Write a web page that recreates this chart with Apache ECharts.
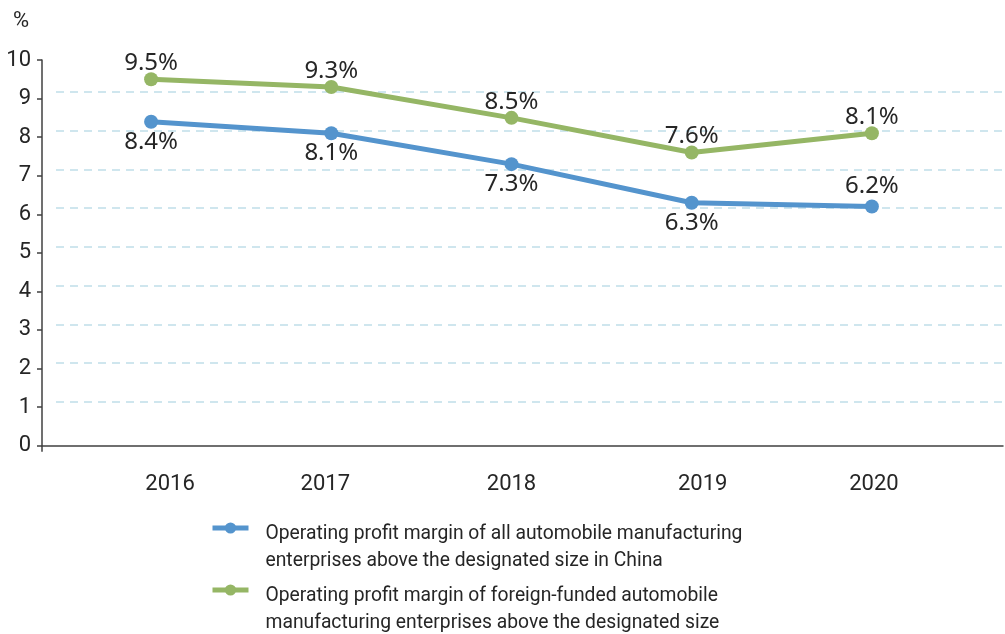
<!DOCTYPE html>
<html>
<head>
<meta charset="utf-8">
<script src="https://cdn.jsdelivr.net/npm/echarts@6/dist/echarts.min.js"></script>
<style>
html,body{margin:0;padding:0;background:#fff;}
#chart{width:1005px;height:634px;}
</style>
</head>
<body>
<div id="chart"></div>
<script>
// ---- data ----
const years = ['2016', '2017', '2018', '2019', '2020'];
const allEnterprises = [8.4, 8.1, 7.3, 6.3, 6.2];
const foreignFunded = [9.5, 9.3, 8.5, 7.6, 8.1];
const yTicks = [0, 1, 2, 3, 4, 5, 6, 7, 8, 9, 10];
const seriesNames = [
  'Operating profit margin of all automobile manufacturing\nenterprises above the designated size in China',
  'Operating profit margin of foreign-funded automobile\nmanufacturing enterprises above the designated size'
];

// ---- layout / style ----
const BLUE = '#5494CD';
const GREEN = '#95B665';
const TEXT = '#262626';
const NARROW = "Roboto, 'Liberation Sans', sans-serif";
const LABELFONT = "'Noto Sans', 'Open Sans', sans-serif";
const xLabelNudge = [19, -6, 0, 11, 2]; // horizontal nudges of the year labels (px)

const chart = echarts.init(document.getElementById('chart'), null, {renderer: 'canvas'});

function legendFormatter(name) {
  const parts = name.split('\n');
  return '{s| }\n{t|' + parts[0] + '}\n{t|' + parts[1] + '}';
}
const legendRich = {
  s: {lineHeight: 40, fontSize: 4},
  t: {lineHeight: 27, fontSize: 19.3, fontFamily: NARROW, color: TEXT, padding: [0, 0, 0, 12]}
};
function legendBlock(name, top) {
  return {
    orient: 'vertical', left: 205, top: top,
    data: [name],
    itemWidth: 36, itemHeight: 14,
    lineStyle: {width: 5},
    formatter: legendFormatter,
    textStyle: {rich: legendRich}
  };
}

const option = {
  backgroundColor: '#ffffff',
  animation: false,
  grid: [
    {left: 61, right: 43, top: 60, bottom: 188.3},   // series
    {left: 42, right: 2, top: 60, bottom: 188.3},    // axes
    {left: 56, right: 2, top: 92, bottom: 232.3}     // dashed guide lines
  ],
  xAxis: [
    {
      gridIndex: 0, type: 'category', boundaryGap: true,
      data: years.map((y, i) => ({
        value: y,
        textStyle: {padding: xLabelNudge[i] >= 0 ? [0, 0, 0, 2 * xLabelNudge[i]] : [0, -2 * xLabelNudge[i], 0, 0]}
      })),
      axisLine: {show: false}, axisTick: {show: false}, splitLine: {show: false},
      axisLabel: {margin: 28, fontSize: 22, fontFamily: NARROW, color: TEXT}
    },
    {
      gridIndex: 1, type: 'value', min: 0, max: 1,
      axisLine: {show: true, lineStyle: {color: '#404040', width: 1.5}},
      axisTick: {show: true, customValues: [0], length: 6, lineStyle: {color: '#404040', width: 1.5}},
      axisLabel: {show: false}, splitLine: {show: false}
    },
    {
      gridIndex: 2, type: 'value', min: 0, max: 1, show: false
    }
  ],
  yAxis: [
    {
      gridIndex: 0, type: 'value', min: 0, max: 10, interval: 1, show: false
    },
    {
      gridIndex: 1, type: 'value', min: yTicks[0], max: yTicks[yTicks.length - 1], interval: 1,
      name: '%', nameLocation: 'end', nameGap: 28,
      nameTextStyle: {fontSize: 22, fontFamily: NARROW, color: TEXT, padding: [0, 42, 0, 0]},
      axisLine: {show: true, lineStyle: {color: '#404040', width: 1.5}},
      axisTick: {show: true, length: 5, inside: false, lineStyle: {color: '#404040', width: 1.5}},
      axisLabel: {margin: 11, fontSize: 22, fontFamily: NARROW, color: TEXT},
      splitLine: {show: false}
    },
    {
      gridIndex: 2, type: 'value', min: 1, max: 9, interval: 1,
      axisLine: {show: false}, axisTick: {show: false}, axisLabel: {show: false},
      splitLine: {show: true, lineStyle: {color: '#CFE6EE', width: 2, type: [8, 6]}}
    }
  ],
  legend: [
    legendBlock(seriesNames[0], 494),
    legendBlock(seriesNames[1], 556)
  ],
  series: [
    {
      name: seriesNames[0], type: 'line', xAxisIndex: 0, yAxisIndex: 0,
      data: allEnterprises.map((v, i) => ({
        value: v,
        label: {position: i === allEnterprises.length - 1 ? 'top' : 'bottom'}
      })),
      symbol: 'circle', symbolSize: 14,
      lineStyle: {color: BLUE, width: 5},
      itemStyle: {color: BLUE},
      label: {show: true, distance: 1, formatter: p => p.value.toFixed(1) + '%',
        fontSize: 24, fontFamily: LABELFONT, color: TEXT},
      z: 3
    },
    {
      name: seriesNames[1], type: 'line', xAxisIndex: 0, yAxisIndex: 0,
      data: foreignFunded,
      symbol: 'circle', symbolSize: 14,
      lineStyle: {color: GREEN, width: 5},
      itemStyle: {color: GREEN},
      label: {show: true, position: 'top', distance: -3, formatter: p => p.value.toFixed(1) + '%',
        fontSize: 24, fontFamily: LABELFONT, color: TEXT},
      z: 3
    }
  ]
};
chart.setOption(option);
</script>
</body>
</html>
